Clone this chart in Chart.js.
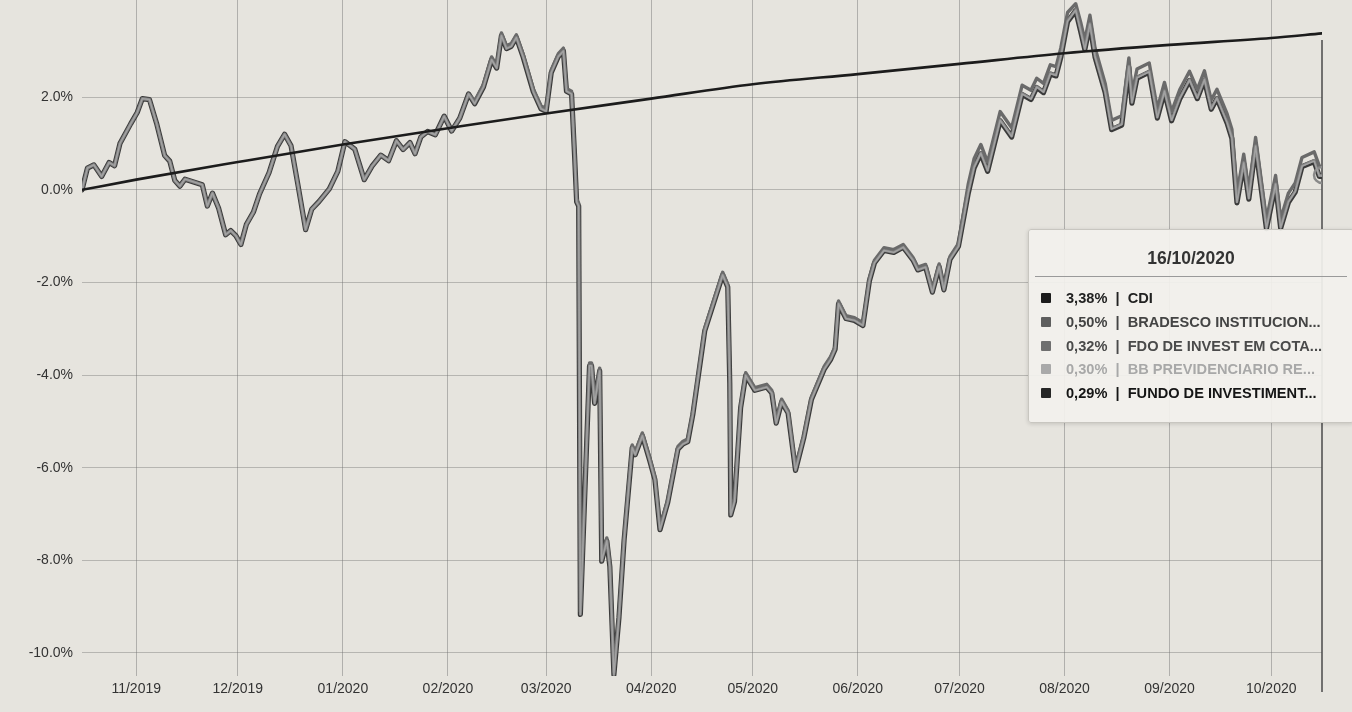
<!DOCTYPE html>
<html>
<head>
<meta charset="utf-8">
<script src="https://cdn.jsdelivr.net/npm/chart.js@4.4.1/dist/chart.umd.min.js"></script>
<style>
  html, body { margin: 0; padding: 0; background: #e6e4de; }
  #wrap { position: relative; width: 1352px; height: 712px; }
  #tip {
    position: absolute; left: 1028px; top: 229px; width: 324px; height: 192px;
    background: rgba(242, 241, 237, 0.93); border: 1px solid #c8c6c0; border-radius: 3px;
    box-shadow: 0 1px 4px rgba(0, 0, 0, 0.15);
    font-family: "Liberation Sans", Arial, sans-serif;
  }
  #tip .ttl { text-align: center; font-weight: bold; font-size: 17.5px; color: #333; margin-top: 17px; height: 22px; line-height: 22px; }
  #tip .sep { margin: 7px 6px 10px 6px; border-top: 1px solid #9a9a9a; }
  .row { height: 23.8px; line-height: 23.8px; padding-left: 12px; font-weight: bold; font-size: 14.6px; white-space: nowrap; }
  .sq { display: inline-block; width: 10px; height: 10px; margin-right: 15px; vertical-align: 0px; border-radius: 1px; }
</style>
</head>
<body>
<div id="wrap">
  <canvas id="myChart"></canvas>
  <div id="tip">
    <div class="ttl" id="tipTitle"></div>
    <div class="sep"></div>
    <div id="tipRows"></div>
  </div>
</div>
<script>
// x values are days since 16/10/2019
const monthDays = [16, 46, 77, 108, 137, 168, 198, 229, 259, 290, 321, 351];
const monthLabels = ["11/2019", "12/2019", "01/2020", "02/2020", "03/2020", "04/2020",
  "05/2020", "06/2020", "07/2020", "08/2020", "09/2020", "10/2020"];
const yTicks = [-10, -8, -6, -4, -2, 0, 2];
const endLabel = "16/10/2020";

const cdiDays = [0, 16, 46, 77, 108, 137, 168, 198, 229, 259, 290, 321, 351, 366];
const cdiValues = [0, 0.22, 0.6, 0.98, 1.33, 1.65, 1.97, 2.28, 2.5, 2.72, 2.95, 3.13, 3.28, 3.38];

const fundDays = [
  0, 1.6, 3.5, 5.8, 8, 9.6, 11.2, 14.4, 16.3, 17.8,
  19.9, 22, 24.4, 25.9, 27.4, 28.9, 30.4, 33.4, 35.5, 37,
  38.5, 40.3, 42.4, 43.9, 45.4, 46.9, 48.5, 50.6, 52.4, 55.2,
  57.7, 59.8, 61.7, 63.8, 66, 67.8, 70, 73, 75.5, 77.6,
  80.5, 83.3, 85.6, 88.2, 90.5, 92.8, 94.8, 96.8, 98.3, 100,
  102, 104.3, 106.9, 109.1, 111.5, 114.1, 115.9, 118.5, 120.9, 122.4,
  123.8, 125.3, 126.7, 128.2, 130.2, 133.2, 135.5, 137, 138.5, 140.6,
  142.1, 143, 144.5, 145.4, 146, 146.6, 147.1, 149.8, 150.4, 151.3,
  152.8, 153.4, 154.9, 155.8, 157, 158.5, 160, 162.4, 163.3, 165.4,
  167.5, 169.1, 170.6, 172.9, 175.9, 177.4, 178.8, 180.3, 183.8, 189.1,
  190.6, 191.2, 191.5, 192.6, 194.4, 195.9, 198.6, 202.1, 203.6, 204.9,
  206.5, 208.4, 210.6, 213.1, 215.3, 219.1, 221, 222.3, 223.3, 225.5,
  228, 230.5, 232.4, 233.9, 236.7, 239.6, 242.4, 245.3, 246.7, 249,
  251, 253, 254.4, 256.2, 258.7, 261.6, 263.3, 265.3, 267.3, 271,
  274.4, 277.5, 280.1, 281.8, 283.8, 285.8, 287.5, 288.9, 290.9, 293.3,
  294.8, 296, 297.5, 299, 302, 303.9, 306.9, 309, 309.9, 311.4,
  315, 317.4, 319.5, 321.6, 324, 326.9, 329.2, 331.3, 333.3, 335,
  338, 339.4, 340.9, 342.9, 344.4, 346.4, 348.2, 349.6, 352.3, 353.8,
  356.1, 358.1, 360.1, 363.7, 365.2, 366
];

const bradescoValues = [
  0, 0.47, 0.54, 0.29, 0.59, 0.52, 1.0, 1.43, 1.67, 1.97,
  1.95, 1.44, 0.74, 0.62, 0.2, 0.08, 0.23, 0.16, 0.11, -0.35,
  -0.07, -0.39, -0.97, -0.88, -0.99, -1.18, -0.75, -0.48, -0.09, 0.37,
  0.94, 1.2, 0.95, 0.08, -0.86, -0.42, -0.25, 0.02, 0.4, 1.04,
  0.88, 0.22, 0.51, 0.75, 0.63, 1.06, 0.87, 1.02, 0.78, 1.14,
  1.26, 1.19, 1.59, 1.27, 1.55, 2.07, 1.92, 2.28, 2.87, 2.69,
  3.39, 3.11, 3.16, 3.35, 2.93, 2.18, 1.81, 1.76, 2.59, 2.94,
  3.06, 2.19, 2.13, 0.78, -0.2, -0.29, -9.11, -3.74, -3.74, -4.55,
  -3.85, -7.96, -7.52, -8.08, -10.41, -9.17, -7.51, -5.51, -5.66, -5.25,
  -5.77, -6.2, -7.28, -6.69, -5.54, -5.43, -5.38, -4.79, -2.99, -1.78,
  -2.04, -4.13, -6.96, -6.67, -4.65, -3.95, -4.27, -4.2, -4.33, -4.98,
  -4.52, -4.76, -6.0, -5.28, -4.47, -3.81, -3.6, -3.38, -2.4, -2.72,
  -2.76, -2.87, -1.91, -1.52, -1.25, -1.29, -1.18, -1.46, -1.67, -1.61,
  -2.15, -1.6, -2.1, -1.44, -1.16, 0.13, 0.67, 0.98, 0.6, 1.69,
  1.34, 2.26, 2.15, 2.41, 2.3, 2.7, 2.66, 3.06, 3.83, 4.02,
  3.61, 3.23, 3.77, 3.07, 2.3, 1.5, 1.6, 2.85, 2.07, 2.61,
  2.74, 1.75, 2.32, 1.69, 2.16, 2.56, 2.17, 2.57, 1.94, 2.17,
  1.64, 1.31, -0.08, 0.77, 0.0, 1.13, 0.14, -0.64, 0.31, -0.63,
  -0.07, 0.15, 0.7, 0.82, 0.52, 0.5
];

const fdoValues = [
  0, 0.47, 0.54, 0.29, 0.59, 0.52, 1.0, 1.43, 1.67, 1.97,
  1.95, 1.44, 0.74, 0.62, 0.2, 0.08, 0.23, 0.16, 0.11, -0.35,
  -0.07, -0.39, -0.97, -0.88, -0.99, -1.18, -0.75, -0.48, -0.09, 0.37,
  0.94, 1.2, 0.95, 0.08, -0.86, -0.42, -0.25, 0.02, 0.4, 1.04,
  0.88, 0.22, 0.51, 0.75, 0.63, 1.06, 0.87, 1.02, 0.78, 1.14,
  1.26, 1.19, 1.59, 1.27, 1.55, 2.07, 1.86, 2.22, 2.81, 2.63,
  3.33, 3.05, 3.1, 3.29, 2.87, 2.12, 1.75, 1.7, 2.53, 2.88,
  3.0, 2.13, 2.07, 0.72, -0.26, -0.35, -9.17, -3.8, -3.8, -4.61,
  -3.91, -8.02, -7.58, -8.14, -10.47, -9.23, -7.57, -5.57, -5.72, -5.31,
  -5.83, -6.26, -7.34, -6.75, -5.6, -5.49, -5.44, -4.85, -3.05, -1.84,
  -2.1, -4.19, -7.02, -6.73, -4.71, -4.01, -4.33, -4.26, -4.39, -5.04,
  -4.58, -4.82, -6.06, -5.34, -4.53, -3.87, -3.66, -3.44, -2.46, -2.78,
  -2.82, -2.93, -1.97, -1.58, -1.31, -1.35, -1.24, -1.52, -1.73, -1.67,
  -2.21, -1.66, -2.16, -1.5, -1.22, -0.05, 0.49, 0.8, 0.42, 1.51,
  1.16, 2.08, 1.97, 2.23, 2.12, 2.52, 2.48, 2.88, 3.65, 3.89,
  3.43, 3.05, 3.59, 2.89, 2.12, 1.32, 1.42, 2.67, 1.89, 2.43,
  2.56, 1.57, 2.14, 1.51, 1.98, 2.38, 1.99, 2.39, 1.76, 1.99,
  1.46, 1.13, -0.26, 0.59, -0.18, 0.95, -0.04, -0.82, 0.13, -0.81,
  -0.25, -0.03, 0.52, 0.64, 0.31, 0.32
];

const bbValues = [
  0, 0.47, 0.54, 0.29, 0.59, 0.52, 1.0, 1.43, 1.67, 1.97,
  1.95, 1.44, 0.74, 0.62, 0.2, 0.08, 0.23, 0.16, 0.11, -0.35,
  -0.07, -0.39, -0.97, -0.88, -0.99, -1.18, -0.75, -0.48, -0.09, 0.37,
  0.94, 1.2, 0.95, 0.08, -0.86, -0.42, -0.25, 0.02, 0.4, 1.04,
  0.88, 0.22, 0.51, 0.75, 0.63, 1.06, 0.87, 1.02, 0.78, 1.14,
  1.26, 1.19, 1.59, 1.27, 1.55, 2.07, 1.86, 2.22, 2.81, 2.63,
  3.33, 3.05, 3.1, 3.29, 2.87, 2.12, 1.75, 1.7, 2.53, 2.88,
  3.0, 2.13, 2.07, 0.72, -0.26, -0.35, -9.17, -3.8, -3.8, -4.61,
  -3.91, -8.02, -7.58, -8.14, -10.47, -9.23, -7.57, -5.57, -5.72, -5.31,
  -5.83, -6.26, -7.34, -6.75, -5.6, -5.49, -5.44, -4.85, -3.05, -1.84,
  -2.1, -4.19, -7.02, -6.73, -4.71, -4.01, -4.33, -4.26, -4.39, -5.04,
  -4.58, -4.82, -6.06, -5.34, -4.53, -3.87, -3.66, -3.44, -2.46, -2.78,
  -2.82, -2.93, -1.97, -1.58, -1.31, -1.35, -1.24, -1.52, -1.73, -1.67,
  -2.21, -1.66, -2.16, -1.5, -1.22, -0.06, 0.48, 0.79, 0.41, 1.5,
  1.15, 2.07, 1.96, 2.22, 2.11, 2.51, 2.47, 2.87, 3.64, 3.88,
  3.42, 3.04, 3.58, 2.88, 2.11, 1.31, 1.41, 2.66, 1.88, 2.42,
  2.55, 1.56, 2.13, 1.5, 1.97, 2.37, 1.98, 2.38, 1.75, 1.98,
  1.45, 1.12, -0.27, 0.58, -0.19, 0.94, -0.05, -0.83, 0.12, -0.82,
  -0.26, -0.04, 0.51, 0.62, 0.3, 0.3
];

const fundoValues = [
  0, 0.47, 0.54, 0.29, 0.59, 0.52, 1.0, 1.43, 1.67, 1.97,
  1.95, 1.44, 0.74, 0.62, 0.2, 0.08, 0.23, 0.16, 0.11, -0.35,
  -0.07, -0.39, -0.97, -0.88, -0.99, -1.18, -0.75, -0.48, -0.09, 0.37,
  0.94, 1.2, 0.95, 0.08, -0.86, -0.42, -0.25, 0.02, 0.4, 1.04,
  0.88, 0.22, 0.51, 0.75, 0.63, 1.06, 0.87, 1.02, 0.78, 1.14,
  1.26, 1.19, 1.59, 1.27, 1.55, 2.07, 1.86, 2.22, 2.81, 2.63,
  3.33, 3.05, 3.1, 3.29, 2.87, 2.12, 1.75, 1.7, 2.53, 2.88,
  3.0, 2.13, 2.07, 0.72, -0.26, -0.35, -9.17, -3.8, -3.8, -4.61,
  -3.91, -8.02, -7.58, -8.14, -10.47, -9.23, -7.57, -5.57, -5.72, -5.31,
  -5.83, -6.26, -7.34, -6.75, -5.6, -5.49, -5.44, -4.85, -3.05, -1.84,
  -2.1, -4.19, -7.02, -6.73, -4.71, -4.01, -4.33, -4.26, -4.39, -5.04,
  -4.58, -4.82, -6.06, -5.34, -4.53, -3.87, -3.66, -3.44, -2.46, -2.78,
  -2.82, -2.93, -1.97, -1.58, -1.31, -1.35, -1.24, -1.52, -1.73, -1.67,
  -2.21, -1.66, -2.16, -1.5, -1.22, -0.07, 0.47, 0.78, 0.4, 1.49,
  1.14, 2.06, 1.95, 2.21, 2.1, 2.5, 2.46, 2.86, 3.63, 3.87,
  3.41, 3.03, 3.57, 2.87, 2.1, 1.3, 1.4, 2.65, 1.87, 2.41,
  2.54, 1.55, 2.12, 1.49, 1.96, 2.36, 1.97, 2.37, 1.74, 1.97,
  1.44, 1.11, -0.28, 0.57, -0.2, 0.93, -0.06, -0.84, 0.11, -0.83,
  -0.27, -0.05, 0.5, 0.61, 0.29, 0.29
];

const seriesNames = ["CDI", "BRADESCO INSTITUCION...", "FDO DE INVEST EM COTA...",
  "BB PREVIDENCIARIO RE...", "FUNDO DE INVESTIMENT..."];
const seriesColors = ["#1c1c1c", "#5e5e5e", "#6f6f6f", "#a9a9a9", "#262626"];
const textColors = ["#222", "#444", "#4a4a4a", "#a8a8a8", "#151515"];

function toPoints(days, values) {
  return days.map((d, i) => ({ x: d, y: values[i] }));
}

const lastIndex = fundDays.length - 1;

// vertical hover line at the last date
const crossLine = {
  id: "crossLine",
  beforeDatasetsDraw(chart) {
    const x = chart.scales.x.getPixelForValue(fundDays[lastIndex]);
    const ctx = chart.ctx;
    ctx.save();
    ctx.strokeStyle = "#4a4a4a";
    ctx.lineWidth = 1.5;
    ctx.beginPath();
    ctx.moveTo(x, chart.chartArea.top + 40);
    ctx.lineTo(x, chart.chartArea.bottom + 16);
    ctx.stroke();
    ctx.restore();
  }
};

Chart.defaults.font.family = '"Liberation Sans", Arial, sans-serif';

new Chart(document.getElementById("myChart"), {
  type: "line",
  data: {
    datasets: [
      {
        label: seriesNames[0],
        data: toPoints(cdiDays, cdiValues),
        borderColor: seriesColors[0],
        borderWidth: 2.6,
        cubicInterpolationMode: "monotone"
      },
      {
        label: seriesNames[3],
        data: toPoints(fundDays, bbValues),
        borderColor: "#a3a3a3",
        borderWidth: 1.4
      },
      {
        label: seriesNames[2],
        data: toPoints(fundDays, fdoValues),
        borderColor: "#858585",
        borderWidth: 2.8,
        pointRadius: (c) => (c.dataIndex === lastIndex ? 8 : 0),
        pointBorderColor: "#8a8a8a",
        pointBorderWidth: 2.5,
        pointBackgroundColor: "rgba(0,0,0,0)"
      },
      {
        label: seriesNames[1],
        data: toPoints(fundDays, bradescoValues),
        borderColor: "#6a6a6a",
        borderWidth: 3.4
      },
      {
        label: seriesNames[4],
        data: toPoints(fundDays, fundoValues),
        borderColor: "#3a3a3a",
        borderWidth: 5.2
      }
    ]
  },
  options: {
    responsive: true,
    maintainAspectRatio: false,
    animation: false,
    layout: { autoPadding: false, padding: { left: 0, right: 30, top: 0, bottom: 0 } },
    elements: {
      point: { radius: 0 },
      line: { tension: 0, borderJoinStyle: "round", borderCapStyle: "round" }
    },
    plugins: { legend: { display: false }, tooltip: { enabled: false } },
    scales: {
      x: {
        type: "linear",
        min: 0,
        max: 366,
        border: { display: false },
        grid: { color: "rgba(110,110,110,0.45)", lineWidth: 1, drawTicks: false },
        afterBuildTicks: (scale) => {
          scale.ticks = monthDays.map((d) => ({ value: d }));
        },
        afterFit: (scale) => { scale.height = 36; },
        ticks: {
          autoSkip: false,
          maxRotation: 0,
          padding: 5,
          color: "#333",
          font: { size: 14 },
          callback: (v, i) => monthLabels[i]
        }
      },
      y: {
        min: -10.5,
        max: 4.1,
        border: { display: false },
        grid: { drawTicks: false, color: "rgba(110,110,110,0.4)" },
        afterBuildTicks: (scale) => {
          scale.ticks = yTicks.map((v) => ({ value: v }));
        },
        afterFit: (scale) => {
          scale.width = 82;
          scale.paddingTop = 0;
        },
        ticks: {
          padding: 9,
          color: "#333",
          font: { size: 14 },
          callback: (v) => v.toFixed(1) + "%"
        }
      }
    }
  },
  plugins: [crossLine]
});

// hover box with the values on the last date
const lastValues = [cdiValues[cdiValues.length - 1], bradescoValues[lastIndex],
  fdoValues[lastIndex], bbValues[lastIndex], fundoValues[lastIndex]];
document.getElementById("tipTitle").textContent = endLabel;
document.getElementById("tipRows").innerHTML = seriesNames.map((name, i) =>
  '<div class="row" style="color:' + textColors[i] + '">' +
  '<span class="sq" style="background:' + seriesColors[i] + '"></span>' +
  lastValues[i].toFixed(2).replace(".", ",") + "%&nbsp;&nbsp;|&nbsp;&nbsp;" + name +
  "</div>").join("");
</script>
</body>
</html>
